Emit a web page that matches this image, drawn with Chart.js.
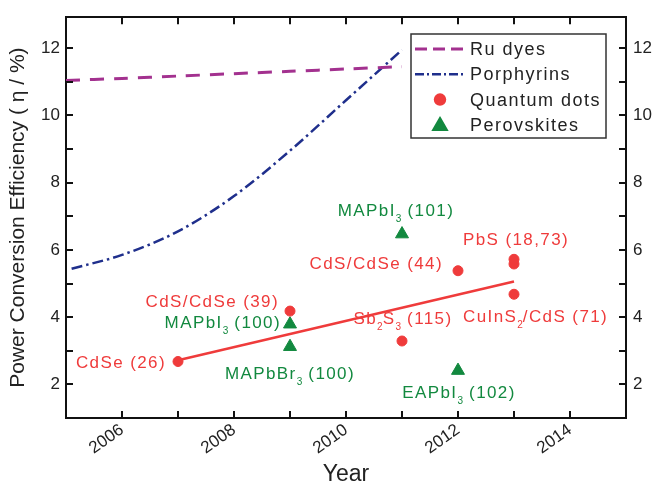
<!DOCTYPE html>
<html>
<head>
<meta charset="utf-8">
<script src="https://cdn.jsdelivr.net/npm/chart.js@4.4.1/dist/chart.umd.min.js"></script>
<style>
  html, body { margin: 0; padding: 0; background: #fff; }
  #wrap { width: 652px; height: 488px; }
</style>
</head>
<body>
<div id="wrap"><canvas id="canvas" width="652" height="488"></canvas></div>
<script>
// data
const ruYears = [2005, 2006, 2007, 2008, 2009, 2010, 2011];
const ruValues = [11.04, 11.1, 11.17, 11.24, 11.31, 11.38, 11.45];

const porYears = [2005.1, 2006, 2007, 2008, 2009, 2010, 2011];
const porValues = [5.44, 5.85, 6.55, 7.6, 8.95, 10.45, 11.95];

const qdYears = [2007, 2009, 2011, 2012, 2013, 2013, 2013];
const qdValues = [2.68, 4.18, 3.29, 5.38, 5.58, 5.72, 4.68];

const qdFitYears = [2007, 2013];
const qdFitValues = [2.72, 5.06];

const pvYears = [2009, 2009, 2011, 2012];
const pvValues = [3.79, 3.12, 6.47, 2.41];

// annotation texts (_n = subscript) and the point each one belongs to
const labelTexts = ['CdSe (26)', 'CdS/CdSe (39)', 'MAPbI_3 (100)', 'MAPbBr_3 (100)', 'MAPbI_3 (101)',
  'PbS (18,73)', 'CdS/CdSe (44)', 'CuInS_2/CdS (71)', 'Sb_2S_3 (115)', 'EAPbI_3 (102)'];
const labelYears = [2007, 2009, 2009, 2009, 2011, 2013, 2012, 2013, 2011, 2012];
const labelValues = [2.68, 4.18, 3.79, 3.12, 6.47, 5.65, 5.38, 4.68, 3.29, 2.41];
const labelGroups = ['qd', 'qd', 'pv', 'pv', 'pv', 'qd', 'qd', 'qd', 'qd', 'pv'];

// placement of each annotation relative to its point (pixels)
const labelPlace = [
  {align: 'right', dx: -12, dy: 0},
  {align: 'right', dx: -11, dy: -10},
  {align: 'right', dx: -9, dy: -2},
  {align: 'center', dx: 0, dy: 26},
  {align: 'center', dx: -6, dy: -24},
  {align: 'center', dx: 2, dy: -23},
  {align: 'right', dx: -15, dy: -8},
  {align: 'left', dx: -51, dy: 22},
  {align: 'center', dx: 1, dy: -23},
  {align: 'center', dx: 1, dy: 21}
];

const RED = '#ef3b3b';
const GREEN = '#12893f';
const PURPLE = '#a3318f';
const NAVY = '#1f2f8c';
const INK = '#222';
const FONT = "'Liberation Sans', Arial, Helvetica, sans-serif";

const toXY = (xs, ys) => xs.map((x, i) => ({x: x, y: ys[i]}));

// rich text with subscripts
const drawRich = (ctx, text, x, y, align, size, spacing) => {
  const parts = text.split(/_(\d)/);
  const subSize = Math.round(size * 0.6);
  const widths = parts.map((p, i) => {
    ctx.font = (i % 2 ? subSize : size) + 'px ' + FONT;
    ctx.letterSpacing = (i % 2 ? 0 : spacing) + 'px';
    return ctx.measureText(p).width;
  });
  const total = widths.reduce((a, b) => a + b, 0);
  let cx = align === 'right' ? x - total : (align === 'center' ? x - total / 2 : x);
  const base = y + size * 0.36;
  parts.forEach((p, i) => {
    ctx.font = (i % 2 ? subSize : size) + 'px ' + FONT;
    ctx.letterSpacing = (i % 2 ? 0 : spacing) + 'px';
    ctx.fillText(p, cx, i % 2 ? base + 6 : base);
    cx += widths[i];
  });
};

const labelPlugin = {
  id: 'pointLabels',
  afterDatasetsDraw(chart) {
    const ctx = chart.ctx;
    const xs = chart.scales.x;
    const ys = chart.scales.y;
    ctx.save();
    ctx.textAlign = 'left';
    ctx.textBaseline = 'alphabetic';
    labelTexts.forEach((t, i) => {
      const p = labelPlace[i];
      ctx.fillStyle = labelGroups[i] === 'qd' ? RED : GREEN;
      drawRich(ctx, t, xs.getPixelForValue(labelYears[i]) + p.dx,
        ys.getPixelForValue(labelValues[i]) + p.dy, p.align, 17, 1.4);
    });
    ctx.restore();
  }
};

const innerTicks = {
  id: 'innerTicks',
  afterDraw(chart) {
    const {ctx, chartArea: a, scales} = chart;
    ctx.save();
    ctx.strokeStyle = '#111';
    ctx.lineWidth = 2;
    ctx.beginPath();
    scales.x.ticks.forEach(t => {
      const px = Math.round(scales.x.getPixelForValue(t.value));
      if (px <= a.left + 2 || px >= a.right - 2) return;
      ctx.moveTo(px, a.bottom); ctx.lineTo(px, a.bottom - 7);
      ctx.moveTo(px, a.top); ctx.lineTo(px, a.top + 7);
    });
    scales.y.ticks.forEach(t => {
      const py = Math.round(scales.y.getPixelForValue(t.value));
      if (py <= a.top + 2 || py >= a.bottom - 2) return;
      ctx.moveTo(a.left, py); ctx.lineTo(a.left + 7, py);
      ctx.moveTo(a.right, py); ctx.lineTo(a.right - 7, py);
    });
    ctx.stroke();
    ctx.restore();
  }
};

const boxLegend = {
  id: 'boxLegend',
  afterDraw(chart) {
    const ctx = chart.ctx;
    const box = {left: 411, top: 34, right: 606, bottom: 138};
    ctx.save();
    ctx.fillStyle = '#fff';
    ctx.fillRect(box.left, box.top, box.right - box.left, box.bottom - box.top);
    ctx.strokeStyle = '#333';
    ctx.lineWidth = 1.5;
    ctx.strokeRect(box.left, box.top, box.right - box.left, box.bottom - box.top);
    const items = chart.data.datasets.filter(d => d.label);
    items.forEach((d, i) => {
      const y = 49 + i * 25.3;
      if (d.pointRadius === 0) {
        ctx.strokeStyle = d.borderColor;
        ctx.lineWidth = d.borderWidth;
        ctx.setLineDash(d.legendDash);
        ctx.beginPath();
        ctx.moveTo(415, y); ctx.lineTo(463, y);
        ctx.stroke();
        ctx.setLineDash([]);
      } else {
        ctx.fillStyle = d.backgroundColor;
        ctx.strokeStyle = d.backgroundColor;
        Chart.helpers.drawPoint(ctx, {pointStyle: d.pointStyle, radius: d.pointRadius, borderWidth: 1, rotation: 0}, 440, y + (d.pointStyle === 'triangle' ? 1 : 0));
      }
      ctx.fillStyle = INK;
      ctx.font = '18px ' + FONT;
      ctx.letterSpacing = '1.5px';
      ctx.textAlign = 'left';
      ctx.textBaseline = 'middle';
      ctx.fillText(d.label, 470, y + 1);
    });
    ctx.restore();
  }
};

const tickFont = {size: 17, family: FONT};
const evenOnly = v => (Math.abs(v % 2) < 1e-9 ? String(v) : '');

const chart = new Chart(document.getElementById('canvas'), {
  type: 'scatter',
  data: {
    datasets: [
      {
        type: 'line', label: 'Ru dyes', data: toXY(ruYears, ruValues),
        borderColor: PURPLE, borderWidth: 3, borderDash: [14, 10], legendDash: [12, 6],
        pointRadius: 0, tension: 0.3, fill: false, order: 3
      },
      {
        type: 'line', label: 'Porphyrins', data: toXY(porYears, porValues),
        borderColor: NAVY, borderWidth: 2.5, borderDash: [11, 4, 2.5, 4], legendDash: [9, 3, 2, 3],
        pointRadius: 0, cubicInterpolationMode: 'monotone', fill: false, order: 4
      },
      {
        label: 'Quantum dots', data: toXY(qdYears, qdValues),
        backgroundColor: RED, borderColor: RED, pointStyle: 'circle', pointRadius: 5, borderWidth: 1, order: 0
      },
      {
        label: 'Perovskites', data: toXY(pvYears, pvValues),
        backgroundColor: GREEN, borderColor: GREEN, pointStyle: 'triangle', pointRadius: 7.5, borderWidth: 1, order: 1
      },
      {
        type: 'line', data: toXY(qdFitYears, qdFitValues),
        borderColor: RED, borderWidth: 2.5, pointRadius: 0, fill: false, order: 2
      }
    ]
  },
  options: {
    responsive: false,
    animation: false,
    layout: {padding: 0},
    plugins: {legend: {display: false}, tooltip: {enabled: false}},
    scales: {
      x: {
        type: 'linear', position: 'bottom', min: 2005, max: 2015,
        ticks: {stepSize: 1, autoSkip: false, includeBounds: false, minRotation: 35, maxRotation: 35,
          padding: 2, color: INK, font: tickFont, callback: evenOnly},
        grid: {display: false, drawTicks: false},
        border: {color: '#111', width: 2},
        title: {display: true, text: 'Year', color: INK, font: {size: 23, family: FONT}, padding: {top: 0, bottom: 0}},
        afterFit: s => { s.height = 70; }
      },
      xTop: {
        type: 'linear', position: 'top', min: 2005, max: 2015,
        ticks: {display: false}, grid: {display: false, drawTicks: false},
        border: {color: '#111', width: 2},
        afterFit: s => { s.height = 13; }
      },
      y: {
        type: 'linear', position: 'left', min: 1, max: 12.92,
        ticks: {stepSize: 1, autoSkip: false, includeBounds: false, padding: 6, color: INK, font: tickFont, callback: evenOnly},
        grid: {display: false, drawTicks: false},
        border: {color: '#111', width: 2},
        title: {display: true, text: 'Power Conversion Efficiency ( \u03b7 / %)', color: INK,
          font: {size: 21, family: FONT}, padding: {top: 6, bottom: 0}},
        afterFit: s => { s.width = 66; }
      },
      yRight: {
        type: 'linear', position: 'right', min: 1, max: 12.92,
        ticks: {stepSize: 1, autoSkip: false, includeBounds: false, padding: 7, color: INK, font: tickFont, callback: evenOnly},
        grid: {display: false, drawTicks: false},
        border: {color: '#111', width: 2},
        afterFit: s => { s.width = 26; }
      }
    }
  },
  plugins: [innerTicks, labelPlugin, boxLegend]
});
</script>
</body>
</html>
